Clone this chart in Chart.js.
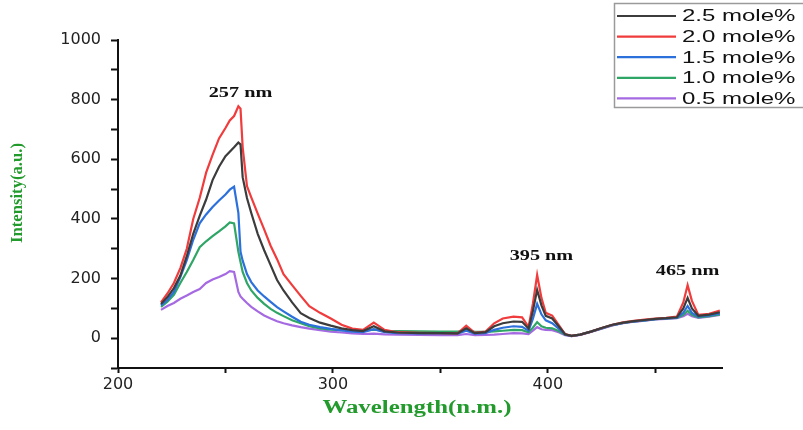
<!DOCTYPE html>
<html>
<head>
<meta charset="utf-8">
<script src="https://cdn.jsdelivr.net/npm/chart.js@4.4.1/dist/chart.umd.min.js"></script>
<style>
  body { margin: 0; background: #fff; }
  canvas { display: block; }
</style>
</head>
<body>
<canvas id="specChart" width="803" height="430"></canvas>
<script>
// Wavelength axis (nm)
var wavelengths = [220,223,226,229,232,235,238,241,244,247,
  250,252,254,256,257,258,260,262,265,268,
  271,274,277,281,285,289,294,299,304,309,
  314,319,324,330,340,350,358,362,366,371,
  375,379,384,388,391,393,395,397,399,402,
  405,408,411,415,420,425,430,435,440,445,
  450,455,460,463,465,467,470,475,480]

// Intensities (a.u.)
var mole25 = [115,138,168,210,275,350,410,465,530,575,
  610,625,640,656,650,540,470,420,350,295,
  245,195,160,120,84,68,52,42,33,27,
  24,40,23,19,17,17,16,33,17,20,
  40,50,56,55,32,90,162,110,75,66,
  40,13,8,12,22,34,45,52,57,61,
  65,67,70,100,135,100,75,79,87]

var mole20 = [120,150,185,235,300,400,470,555,615,670,
  705,730,745,778,770,640,510,472,418,365,
  310,265,215,178,142,107,85,66,45,32,
  28,52,28,20,18,17,16,42,18,22,
  50,66,72,70,38,115,212,135,85,76,
  45,14,8,12,22,34,45,53,58,62,
  66,68,72,120,178,125,78,82,93]

var mole15 = [110,128,155,205,262,330,385,415,440,462,
  482,498,508,420,290,260,215,188,160,140,
  122,104,90,72,55,45,37,31,26,22,
  20,30,20,17,16,16,15,25,15,17,
  28,35,40,38,25,65,115,80,60,50,
  32,12,7,12,22,33,44,51,56,60,
  64,66,69,85,108,85,72,76,83]

var mole10 = [105,122,145,185,222,262,305,325,342,358,
  375,388,385,290,255,222,185,160,135,115,
  98,85,74,60,50,40,33,29,27,26,
  25,29,25,24,23,22,22,27,21,21,
  23,25,28,27,20,35,54,40,35,33,
  24,12,8,12,22,33,44,51,56,60,
  64,66,68,78,92,78,70,74,80]

var mole05 = [95,108,118,132,143,155,165,185,197,205,
  215,225,222,155,140,132,118,105,90,76,
  66,57,50,43,37,32,27,22,19,16,
  14,15,13,12,11,10,10,14,10,11,
  12,14,17,16,14,25,37,30,28,27,
  20,10,7,11,21,32,43,50,55,59,
  63,65,67,74,82,74,68,72,78]

var seriesLabels = ['2.5 mole%', '2.0 mole%', '1.5 mole%', '1.0 mole%', '0.5 mole%']
var seriesColors = ['#3c3c3c', '#f03c3c', '#2c70dc', '#2fa566', '#a56ae2']

// Peak labels, anchored in data units (nm, a.u.)
var peakLabels = ['257 nm', '395 nm', '465 nm']
var peakAt = [257, 397, 465]
var peakLabelLevel = [822, 276, 226]

var titleGreen = '#229a2c'

function toPoints(values){
  return wavelengths.map((w, i) => ({x: w, y: values[i]}))
}

function stretchText(ctx, text, x, y, sx, sy){
  ctx.save()
  ctx.translate(x, y)
  ctx.scale(sx, sy)
  ctx.fillText(text, 0, 0)
  ctx.restore()
}

// Legend box, peak labels and axis titles
var decorPlugin = {
  id: 'decor',
  afterDraw: function(chart){
    var ctx = chart.ctx
    var xs = chart.scales.x
    var ys = chart.scales.y

    // peak labels
    ctx.save()
    ctx.fillStyle = '#111'
    ctx.font = 'bold 15px "Liberation Serif"'
    ctx.textAlign = 'center'
    ctx.textBaseline = 'middle'
    peakLabels.forEach((t, i) => {
      stretchText(ctx, t, xs.getPixelForValue(peakAt[i]), ys.getPixelForValue(peakLabelLevel[i]), 1.35, 1)
    })
    ctx.restore()

    // legend
    ctx.save()
    ctx.strokeStyle = '#9a9a9a'
    ctx.lineWidth = 1.5
    ctx.strokeRect(614.5, 3.5, 200, 104)
    ctx.font = '16px "Liberation Sans"'
    ctx.textAlign = 'left'
    ctx.textBaseline = 'middle'
    chart.data.datasets.forEach((ds, i) => {
      var y = 16 + i * 20.6
      ctx.strokeStyle = ds.borderColor
      ctx.lineWidth = 2.2
      ctx.beginPath()
      ctx.moveTo(617, y)
      ctx.lineTo(676, y)
      ctx.stroke()
      ctx.fillStyle = '#111'
      stretchText(ctx, ds.label, 682, y + 1, 1.5, 1)
    })
    ctx.restore()

    // axis titles
    ctx.save()
    ctx.fillStyle = titleGreen
    ctx.textAlign = 'center'
    ctx.textBaseline = 'middle'
    ctx.font = 'bold 18px "Liberation Serif"'
    stretchText(ctx, 'Wavelength(n.m.)', 417, 408, 1.38, 1)
    ctx.translate(18, 193)
    ctx.rotate(-Math.PI / 2)
    ctx.font = 'bold 16px "Liberation Serif"'
    stretchText(ctx, 'Intensity(a.u.)', 0, 0, 1.04, 1)
    ctx.restore()
  }
}

var datasets = [mole25, mole20, mole15, mole10, mole05].map((values, i) => ({
  label: seriesLabels[i],
  data: toPoints(values),
  borderColor: seriesColors[i],
  borderWidth: 2.2,
  pointRadius: 0,
  tension: 0,
  fill: false
}))

var specChart = new Chart(document.getElementById('specChart'), {
  type: 'line',
  data: { datasets: datasets },
  options: {
    responsive: false,
    animation: false,
    devicePixelRatio: 1,
    layout: { padding: { top: 40, right: 81, left: 0, bottom: 0 } },
    plugins: {
      legend: { display: false },
      tooltip: { enabled: false }
    },
    scales: {
      x: {
        type: 'linear',
        min: 200,
        max: 481,
        afterFit: function(scale){ scale.height = 62 },
        border: { display: true, color: '#111', width: 2 },
        grid: { drawOnChartArea: false, drawTicks: true, tickLength: 5, tickColor: '#111', tickWidth: 2 },
        ticks: {
          stepSize: 50,
          includeBounds: false,
          autoSkip: false,
          maxRotation: 0,
          padding: 2,
          color: '#222',
          font: { family: 'DejaVu Sans', size: 16 },
          callback: function(v){ return v % 100 === 0 ? v : '' }
        }
      },
      y: {
        min: -100,
        max: 1000,
        afterFit: function(scale){ scale.width = 118 },
        border: { display: true, color: '#111', width: 2 },
        grid: { drawOnChartArea: false, drawTicks: true, tickLength: 7, tickColor: '#111', tickWidth: 2 },
        ticks: {
          stepSize: 100,
          autoSkip: false,
          padding: 10,
          color: '#222',
          font: { family: 'DejaVu Sans', size: 16 },
          callback: function(v){ return (v >= 0 && v % 200 === 0) ? v : '' }
        }
      }
    }
  },
  plugins: [decorPlugin]
});
</script>
</body>
</html>
